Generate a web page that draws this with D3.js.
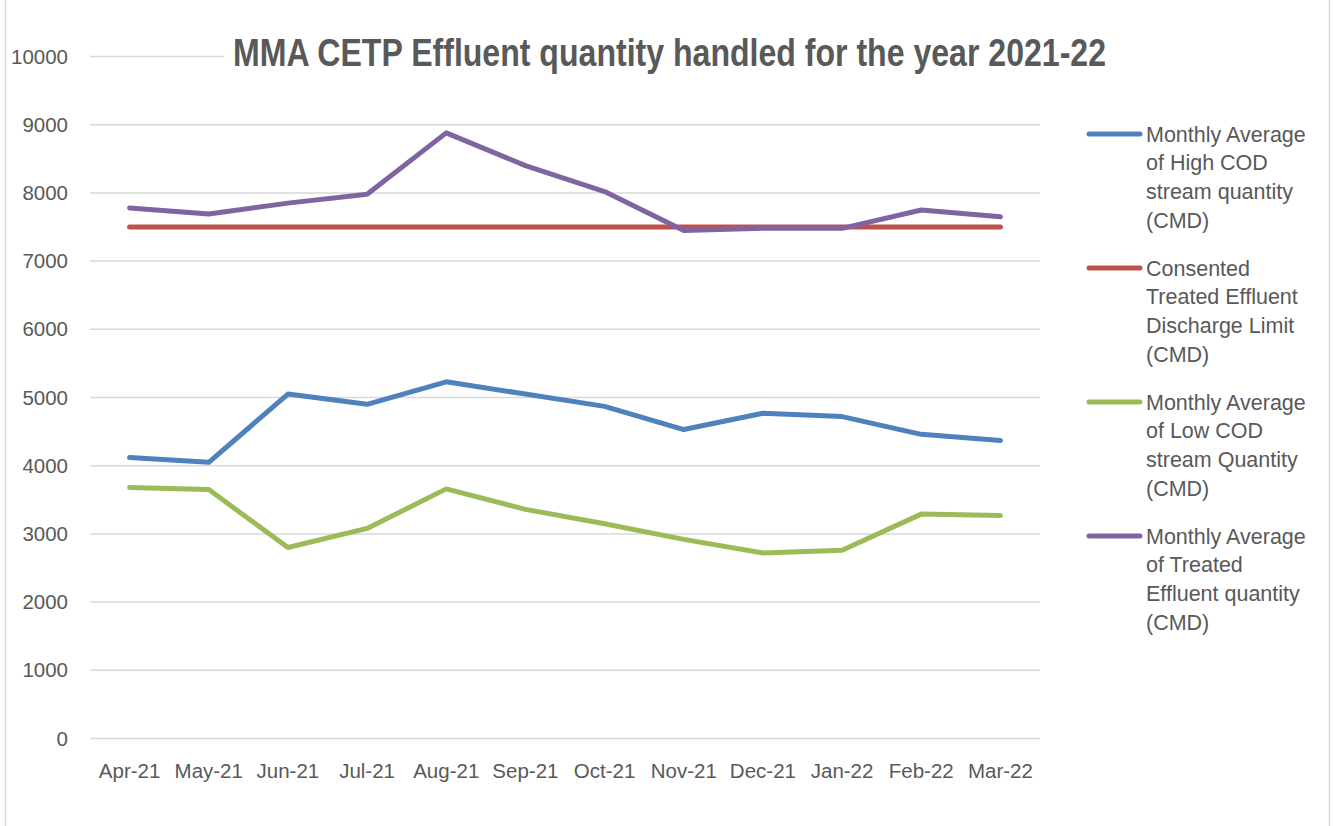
<!DOCTYPE html>
<html>
<head>
<meta charset="utf-8">
<script src="https://cdn.jsdelivr.net/npm/d3@7"></script>
<style>
  body { margin: 0; background: #fff; }
  text { font-family: "Liberation Sans", Arial, sans-serif; fill: #595959; }
</style>
</head>
<body>
<div id="chart"></div>
<script>
var months = ["Apr-21", "May-21", "Jun-21", "Jul-21", "Aug-21", "Sep-21",
              "Oct-21", "Nov-21", "Dec-21", "Jan-22", "Feb-22", "Mar-22"];
var highCod = [4120, 4050, 5050, 4900, 5230, 5050, 4870, 4530, 4770, 4720, 4460, 4370];
var limit = [7500, 7500, 7500, 7500, 7500, 7500, 7500, 7500, 7500, 7500, 7500, 7500];
var lowCod = [3680, 3650, 2800, 3080, 3660, 3360, 3150, 2920, 2720, 2760, 3290, 3270];
var treated = [7780, 7690, 7850, 7980, 8880, 8400, 8020, 7450, 7480, 7480, 7750, 7650];
var yTicks = [0, 1000, 2000, 3000, 4000, 5000, 6000, 7000, 8000, 9000, 10000];

var seriesNames = [
  ["Monthly Average", "of High COD", "stream quantity", "(CMD)"],
  ["Consented", "Treated Effluent", "Discharge Limit", "(CMD)"],
  ["Monthly Average", "of Low COD", "stream Quantity", "(CMD)"],
  ["Monthly Average", "of Treated", "Effluent quantity", "(CMD)"]
];
var seriesValues = [highCod, limit, lowCod, treated];
var colors = ["#4F81BD", "#C0504D", "#9BBB59", "#8064A2"];

var W = 1334, H = 826;
var svg = d3.select("#chart").append("svg").attr("width", W).attr("height", H);

// chart frame (only sides visible)
svg.append("line").attr("x1", 5.5).attr("x2", 5.5).attr("y1", 0).attr("y2", H)
  .attr("stroke", "#d9d9d9").attr("stroke-width", 1.5);
svg.append("line").attr("x1", 1329.5).attr("x2", 1329.5).attr("y1", 0).attr("y2", H)
  .attr("stroke", "#d9d9d9").attr("stroke-width", 1.5);

var x = d3.scalePoint().domain(months).range([90, 1040]).padding(0.5);
var y = d3.scaleLinear().domain([0, 10000]).range([738.5, 56.5]);

// gridlines
svg.append("g").selectAll("line").data(yTicks).enter().append("line")
  .attr("x1", 90).attr("x2", 1040)
  .attr("y1", function(d) { return y(d); }).attr("y2", function(d) { return y(d); })
  .attr("stroke", "#d9d9d9").attr("stroke-width", 1.5);

// y labels
svg.append("g").selectAll("text").data(yTicks).enter().append("text")
  .attr("x", 68).attr("y", function(d) { return y(d) + 7; })
  .attr("text-anchor", "end").attr("font-size", 20.5)
  .text(function(d) { return d; });

// x labels
svg.append("g").selectAll("text").data(months).enter().append("text")
  .attr("x", function(d) { return x(d); }).attr("y", 778)
  .attr("text-anchor", "middle").attr("font-size", 20.5)
  .text(function(d) { return d; });

var line = d3.line()
  .x(function(d, i) { return x(months[i]); })
  .y(function(d) { return y(d); });

seriesValues.forEach(function(vals, k) {
  svg.append("path").datum(vals)
    .attr("d", line)
    .attr("fill", "none")
    .attr("stroke", colors[k])
    .attr("stroke-width", 5)
    .attr("stroke-linejoin", "round")
    .attr("stroke-linecap", "round");
});

// title over a white box (condensed look via textLength)
var title = svg.append("g");
title.append("rect").attr("x", 224).attr("y", 28).attr("width", 895).attr("height", 48).attr("fill", "#fff");
title.append("text").attr("x", 233).attr("y", 66)
  .attr("font-size", 39).attr("font-weight", "bold")
  .attr("textLength", 873).attr("lengthAdjust", "spacingAndGlyphs")
  .text("MMA CETP Effluent quantity handled for the year 2021-22");

// legend
var legendTop = [134, 268, 402, 536];
seriesNames.forEach(function(lines, k) {
  var g = svg.append("g").attr("transform", "translate(0," + legendTop[k] + ")");
  g.append("line").attr("x1", 1089).attr("x2", 1140).attr("y1", 0).attr("y2", 0)
    .attr("stroke", colors[k]).attr("stroke-width", 5).attr("stroke-linecap", "round");
  g.selectAll("text").data(lines).enter().append("text")
    .attr("x", 1146).attr("y", function(d, i) { return 7.5 + i * 28.9; })
    .attr("font-size", 21.5)
    .text(function(d) { return d; });
});
</script>
</body>
</html>
